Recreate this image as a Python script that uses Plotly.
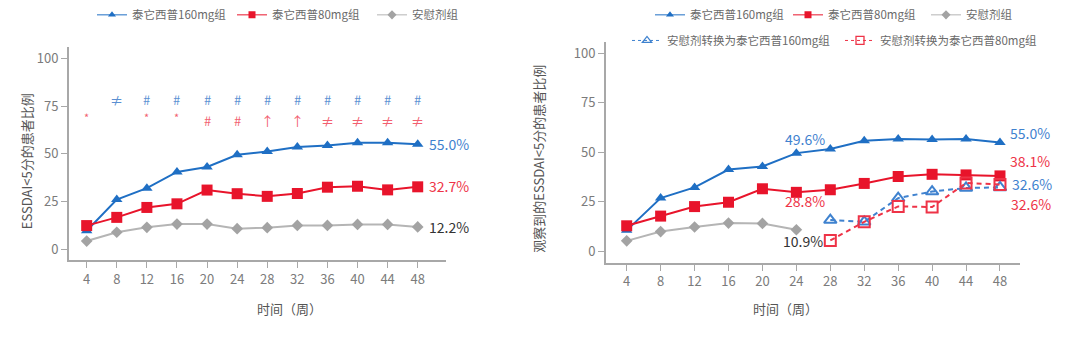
import plotly.graph_objects as go

weeks = [4, 8, 12, 16, 20, 24, 28, 32, 36, 40, 44, 48]
xticks = weeks

# Left chart
L_160 = [9.7, 26.0, 32.0, 40.5, 43.1, 49.5, 51.2, 53.6, 54.3, 55.7, 55.7, 55.0]
L_80 = [12.4, 16.7, 21.9, 23.8, 31.0, 29.1, 27.7, 29.2, 32.5, 33.0, 31.1, 32.7]
L_pbo = [4.3, 8.9, 11.5, 13.2, 13.2, 10.8, 11.3, 12.5, 12.5, 13.0, 13.0, 11.7]

# Right chart
R_160 = [10.6, 26.9, 32.3, 41.3, 42.9, 49.6, 51.7, 55.9, 56.7, 56.5, 56.7, 55.0]
R_80 = [12.9, 17.8, 22.6, 24.8, 31.6, 29.8, 31.1, 34.3, 37.8, 38.9, 38.6, 38.1]
R_pbo_weeks = [4, 8, 12, 16, 20, 24]
R_pbo = [5.3, 10.0, 12.3, 14.3, 14.1, 10.9]
sw_weeks = [28, 32, 36, 40, 44, 48]
R_sw160 = [15.8, 14.9, 26.9, 30.2, 32.0, 32.3]
R_sw80 = [5.5, 14.9, 22.7, 22.4, 34.5, 33.8]

# significance symbols (left chart)
sig_blue_x = [8, 12, 16, 20, 24, 28, 32, 36, 40, 44, 48]
sig_blue = ["≠", "#", "#", "#", "#", "#", "#", "#", "#", "#", "#"]
sig_red_x = [4, 12, 16, 20, 24, 28, 32, 36, 40, 44, 48]
sig_red = ["*", "*", "*", "#", "#", "↑", "↑", "≠", "≠", "≠", "≠"]

names = ["泰它西普160mg组", "泰它西普80mg组", "安慰剂组",
         "安慰剂转换为泰它西普160mg组", "安慰剂转换为泰它西普80mg组"]

BLUE = "#1f6fc4"
RED = "#e8142b"
GREY = "#b5b5b5"
GREY_M = "#a3a3a3"
BLUE_T = "#3f82cf"
RED_T = "#ee3347"
FONT = "Noto Sans CJK SC"
DASH = "5px,4px"

fig = go.Figure()

def add(x, y, name, color, symbol, size, xa, ya, legend, dash="solid", mcolor=None, lw=2):
    mc = mcolor or color
    openm = "open" in symbol
    fig.add_trace(go.Scatter(
        x=x, y=y, name=name, mode="lines+markers", showlegend=False,
        line=dict(color=color, width=lw, dash=dash),
        marker=dict(symbol=symbol, size=size, color=mc,
                    line=dict(width=2 if openm else 0, color=mc)),
        xaxis=xa, yaxis=ya, cliponaxis=False))
    # compact legend entry
    fig.add_trace(go.Scatter(
        x=[None], y=[None], name=name, mode="lines+markers", showlegend=True,
        line=dict(color=color, width=1, dash="dot" if dash != "solid" else "solid"),
        marker=dict(symbol=symbol, size=8 if openm else 7, color=mc,
                    line=dict(width=1.3 if openm else 0, color=mc)),
        xaxis=xa, yaxis=ya, legend=legend))

add(weeks, L_160, names[0], BLUE, "triangle-up", 10, "x", "y", "legend")
add(weeks, L_80, names[1], RED, "square", 11, "x", "y", "legend")
add(weeks, L_pbo, names[2], GREY, "diamond", 9, "x", "y", "legend", mcolor=GREY_M)

add(weeks, R_160, names[0], BLUE, "triangle-up", 10, "x2", "y2", "legend2")
add(weeks, R_80, names[1], RED, "square", 11, "x2", "y2", "legend2")
add(R_pbo_weeks, R_pbo, names[2], GREY, "diamond", 9, "x2", "y2", "legend2", mcolor=GREY_M)
add(sw_weeks, R_sw160, names[3], BLUE_T, "triangle-up-open", 11, "x2", "y2", "legend3", dash=DASH)
add(sw_weeks, R_sw80, names[4], RED_T, "square-open", 11, "x2", "y2", "legend3", dash=DASH)

W, H = 1080, 338
def px(xp):
    return xp / W
def py(yp):
    return 1 - yp / H

axis_common = dict(showgrid=False, zeroline=False, showline=True, linecolor="#a8a8a8",
                   linewidth=2, ticks="outside", ticklen=6, tickwidth=1, tickcolor="#a8a8a8",
                   tickfont=dict(family=FONT, size=13, color="#7b7b7b"))

leg_font = dict(size=11.5, color="#6a6a6a", family=FONT)
fig.update_layout(
    width=W, height=H, margin=dict(l=0, r=0, t=0, b=0),
    paper_bgcolor="white", plot_bgcolor="white",
    font=dict(family=FONT, color="#666"),
    xaxis=dict(domain=[px(69), px(446)], range=[1.65, 51.76], tickvals=xticks, anchor="y", **axis_common),
    yaxis=dict(domain=[py(259), py(43)], range=[-5.7, 105.7], tickvals=[0, 25, 50, 75, 100], anchor="x", **axis_common),
    xaxis2=dict(domain=[px(606), px(1020)], range=[1.56, 50.36], tickvals=xticks, anchor="y2", **axis_common),
    yaxis2=dict(domain=[py(261.7), py(38)], range=[-5.8, 105.5], tickvals=[0, 25, 50, 75, 100], anchor="x2", **axis_common),
    legend=dict(orientation="h", x=px(92), y=py(10), xanchor="left", yanchor="middle",
                font=leg_font, entrywidth=95, itemwidth=30, bgcolor="rgba(0,0,0,0)"),
    legend2=dict(orientation="h", x=px(650), y=py(10), xanchor="left", yanchor="middle",
                 font=leg_font, entrywidth=93, itemwidth=30, bgcolor="rgba(0,0,0,0)"),
    legend3=dict(orientation="h", x=px(627), y=py(36), xanchor="left", yanchor="middle",
                 font=leg_font, entrywidth=168, itemwidth=30, bgcolor="rgba(0,0,0,0)"),
    showlegend=True,
)

ann = []
# significance markers
for xv, s in zip(sig_blue_x, sig_blue):
    ann.append(dict(x=xv, y=78.5, xref="x", yref="y", text=s, showarrow=False,
                    font=dict(size=13, color="#5a8fd2", family=FONT)))
for xv, s in zip(sig_red_x, sig_red):
    yv = 69.5 if s == "*" else 67.5
    ann.append(dict(x=xv, y=yv, xref="x", yref="y", text=s, showarrow=False,
                    font=dict(size=13 if s != "*" else 11, color="#f2606f", family=FONT)))

# value labels (left)
ann += [
    dict(x=49.3, y=55.3, xref="x", yref="y", text="55.0%", xanchor="left", showarrow=False,
         font=dict(size=14, color=BLUE_T, family=FONT)),
    dict(x=49.3, y=33.3, xref="x", yref="y", text="32.7%", xanchor="left", showarrow=False,
         font=dict(size=14, color=RED_T, family=FONT)),
    dict(x=49.3, y=11.5, xref="x", yref="y", text="12.2%", xanchor="left", showarrow=False,
         font=dict(size=14, color="#333", family=FONT)),
]
# value labels (right)
ann += [
    dict(x=49.0, y=59.7, xref="x2", yref="y2", text="55.0%", xanchor="left", showarrow=False,
         font=dict(size=14, color=BLUE_T, family=FONT)),
    dict(x=49.0, y=45.8, xref="x2", yref="y2", text="38.1%", xanchor="left", showarrow=False,
         font=dict(size=14, color=RED_T, family=FONT)),
    dict(x=49.2, y=34.0, xref="x2", yref="y2", text="32.6%", xanchor="left", showarrow=False,
         font=dict(size=14, color=BLUE_T, family=FONT)),
    dict(x=49.1, y=24.0, xref="x2", yref="y2", text="32.6%", xanchor="left", showarrow=False,
         font=dict(size=14, color=RED_T, family=FONT)),
    dict(x=25.0, y=56.9, xref="x2", yref="y2", text="49.6%", showarrow=False,
         font=dict(size=14, color=BLUE_T, family=FONT)),
    dict(x=25.0, y=25.4, xref="x2", yref="y2", text="28.8%", showarrow=False,
         font=dict(size=14, color=RED_T, family=FONT)),
    dict(x=24.8, y=5.0, xref="x2", yref="y2", text="10.9%", showarrow=False,
         font=dict(size=14, color="#333", family=FONT)),
]
# axis titles
ann += [
    dict(x=px(255), y=py(320), xref="paper", yref="paper", text="时间（周）", showarrow=False,
         font=dict(size=13, color="#555", family=FONT)),
    dict(x=px(820), y=py(320), xref="paper", yref="paper", text="时间（周）", showarrow=False,
         font=dict(size=13, color="#555", family=FONT)),
    dict(x=px(15), y=py(159), xref="paper", yref="paper", text="ESSDAI<5分的患者比例", textangle=-90,
         showarrow=False, font=dict(size=13, color="#555", family=FONT)),
    dict(x=px(539), y=py(156), xref="paper", yref="paper", text="观察到的ESSDAI<5分的患者比例", textangle=-90,
         showarrow=False, font=dict(size=13, color="#555", family=FONT)),
]
fig.update_layout(annotations=ann)

fig.write_html("out.html")
